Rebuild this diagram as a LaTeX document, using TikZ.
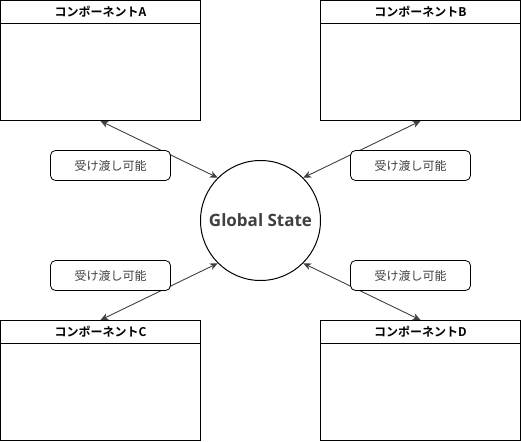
\documentclass[tikz,border=0pt]{standalone}
\usepackage{fontspec}
\setmainfont{Open Sans}
\newfontfamily\jpfont{Noto Sans CJK JP}[BoldFont = {Noto Sans CJK JP Bold}]
\usetikzlibrary{arrows.meta}

\begin{document}
\begin{tikzpicture}[x=1pt, y=-1pt]
		\tikzstyle{head} = [rectangle, draw=black, line width = 1pt, minimum width = 200pt, minimum height = 23pt, inner sep = 0pt, font = \jpfont\bfseries\fontsize{12}{14}\selectfont]
		\tikzstyle{body} = [rectangle, draw=black, line width = 1pt, minimum width = 200pt, minimum height = 97pt, inner sep = 0pt]
		\tikzstyle{tag} = [rectangle, rounded corners = 5pt, draw=black, line width = 0.8pt, fill = white, minimum width = 120pt, minimum height = 30pt, text = black!75, font = \jpfont\fontsize{12}{14}\selectfont]
		\tikzstyle{link} = [{Stealth[length = 8pt, width = 7pt]}-{Stealth[length = 8pt, width = 7pt]}, line width = 0.9pt, draw = black!75]
		\useasboundingbox (0,0) rectangle (521,441);
		
		\node[head] at (100.5, 12) (headA) {コンポーネントA};
		\node[body] at (100.5, 72) (bodyA) {};
		\node[head] at (420.5, 12) (headB) {コンポーネントB};
		\node[body] at (420.5, 72) (bodyB) {};
		\node[head] at (100.5, 332) (headC) {コンポーネントC};
		\node[body] at (100.5, 392) (bodyC) {};
		\node[head] at (420.5, 332) (headD) {コンポーネントD};
		\node[body] at (420.5, 392) (bodyD) {};
		
		\node[circle, draw=black, line width = 1pt, minimum size = 120pt, inner sep = 0pt, text = black!75, font = \bfseries\fontsize{17}{20}\selectfont] at (260.5, 220.5) (gs) {Global State};
		
		\draw[link] (bodyA.south) -- (gs.135);
		\draw[link] (bodyB.south) -- (gs.45);
		\draw[link] (headC.north) -- (gs.225);
		\draw[link] (headD.north) -- (gs.315);
		
		\node[tag] at (110.5, 165.5) (tagA) {受け渡し可能};
		\node[tag] at (410.5, 165.5) (tagB) {受け渡し可能};
		\node[tag] at (110.5, 275.5) (tagC) {受け渡し可能};
		\node[tag] at (410.5, 275.5) (tagD) {受け渡し可能};
		\end{tikzpicture}
\end{document}
